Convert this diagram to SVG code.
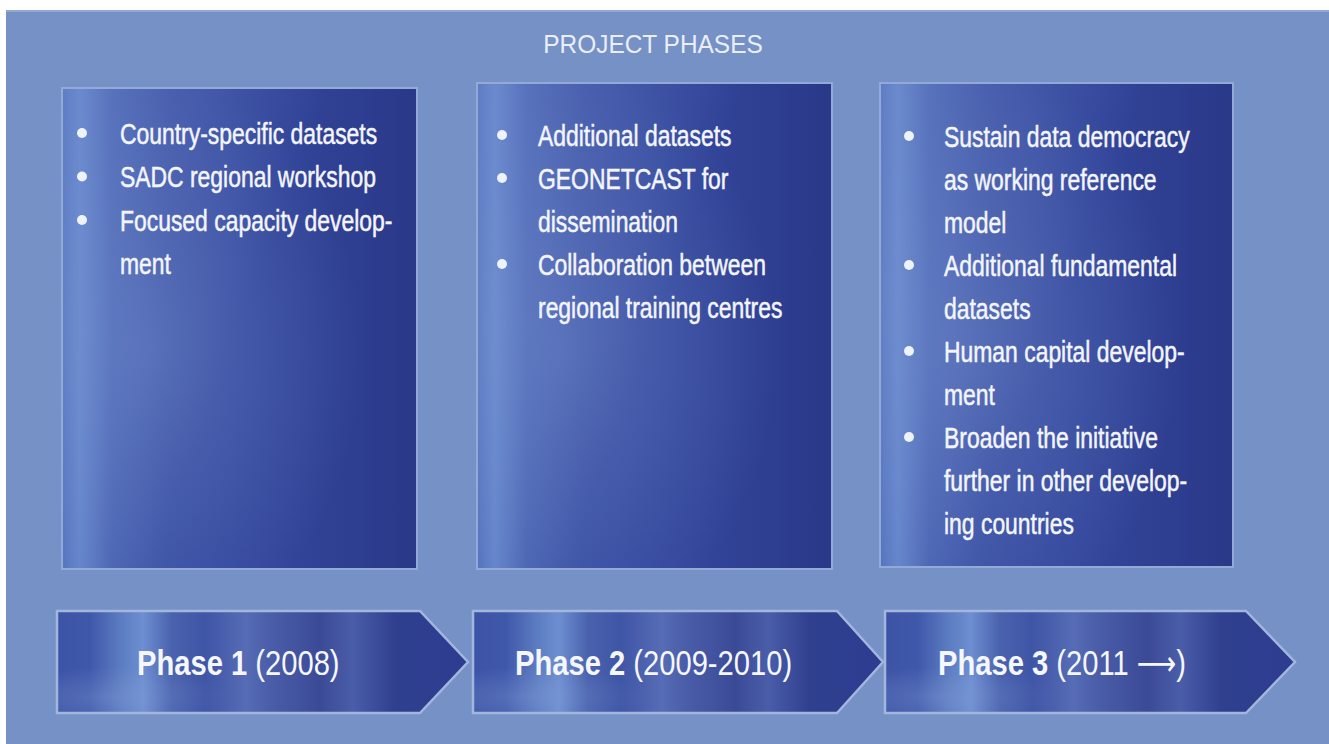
<svg xmlns="http://www.w3.org/2000/svg" width="1329" height="744" viewBox="0 0 1329 744">
<defs>
<style>
.t{font-family:"Liberation Sans",Arial,sans-serif;font-size:29px;fill:#f3f5fb;stroke:#f3f5fb;stroke-width:0.5}
.ph{font-family:"Liberation Sans",Arial,sans-serif;font-size:36px;fill:#f5f7fc}
.b{font-weight:bold}
.title{font-family:"Liberation Sans",Arial,sans-serif;font-size:26px;fill:#e9eef8;text-anchor:middle}
.box{stroke:#93aad8;stroke-width:2}
.arr{stroke:#a2b6de;stroke-width:2.5;stroke-linejoin:miter}
.dot{fill:#eef2fb}
</style>
<linearGradient id="gBox" x1="0" y1="0" x2="1" y2="0">
<stop offset="0" stop-color="#4e6cba"/>
<stop offset="0.05" stop-color="#6182c9"/>
<stop offset="0.14" stop-color="#4760b0"/>
<stop offset="0.3" stop-color="#3a4fa3"/>
<stop offset="0.6" stop-color="#33469b"/>
<stop offset="1" stop-color="#2a3888"/>
</linearGradient>
<radialGradient id="gGlow" cx="0.25" cy="0.55" r="0.6">
<stop offset="0" stop-color="#8aa6dc" stop-opacity="0.3"/>
<stop offset="1" stop-color="#8aa6dc" stop-opacity="0"/>
</radialGradient>
<linearGradient id="gTop" x1="0" y1="0" x2="0.6" y2="0.3">
<stop offset="0" stop-color="#7f9ad6" stop-opacity="0.35"/>
<stop offset="1" stop-color="#7f9ad6" stop-opacity="0"/>
</linearGradient>
<linearGradient id="gArr" x1="0" y1="0" x2="1" y2="0">
<stop offset="0" stop-color="#3c53a6"/>
<stop offset="0.08" stop-color="#4058aa"/>
<stop offset="0.16" stop-color="#5e7ec3"/>
<stop offset="0.21" stop-color="#6d8ed0"/>
<stop offset="0.28" stop-color="#4a62ae"/>
<stop offset="0.36" stop-color="#3f55a6"/>
<stop offset="0.46" stop-color="#566cb5"/>
<stop offset="0.52" stop-color="#4a5da8"/>
<stop offset="0.64" stop-color="#3b4a97"/>
<stop offset="0.72" stop-color="#4a5da9"/>
<stop offset="0.82" stop-color="#30408f"/>
<stop offset="1" stop-color="#2d3c90"/>
</linearGradient>
<radialGradient id="gArrGlow" cx="0.12" cy="0.85" r="0.3">
<stop offset="0" stop-color="#8fa9dc" stop-opacity="0.3"/>
<stop offset="1" stop-color="#8fa9dc" stop-opacity="0"/>
</radialGradient>
</defs>

<rect x="0" y="0" width="1329" height="744" fill="#ffffff"/>
<rect id="panel" x="6" y="10" width="1323" height="734" fill="#7591c5"/>
<line x1="6" y1="11" x2="1329" y2="11" stroke="#9db2dc" stroke-width="1.5"/>

<text class="title" transform="translate(653,53) scale(0.94,1)" x="0" y="0">PROJECT PHASES</text>

<g id="box1">
<rect class="box" x="62" y="88" width="355" height="481" fill="url(#gBox)"/>
<rect x="63" y="89" width="353" height="479" fill="url(#gGlow)"/>
<rect x="63" y="89" width="353" height="479" fill="url(#gTop)"/>
<circle class="dot" cx="82" cy="133" r="5"/>
<circle class="dot" cx="82" cy="176.5" r="5"/>
<circle class="dot" cx="82" cy="220" r="5"/>
<g transform="translate(120,0) scale(0.79,1)">
<text class="t" x="0" y="144">Country-specific datasets</text>
<text class="t" x="0" y="187.5">SADC regional workshop</text>
<text class="t" x="0" y="231">Focused capacity develop-</text>
<text class="t" x="0" y="274.5">ment</text>
</g>
</g>

<g id="box2">
<rect class="box" x="477" y="83" width="355" height="486" fill="url(#gBox)"/>
<rect x="478" y="84" width="353" height="484" fill="url(#gGlow)"/>
<rect x="478" y="84" width="353" height="484" fill="url(#gTop)"/>
<circle class="dot" cx="502" cy="135" r="5"/>
<circle class="dot" cx="502" cy="178" r="5"/>
<circle class="dot" cx="502" cy="264" r="5"/>
<g transform="translate(538,0) scale(0.79,1)">
<text class="t" x="0" y="146">Additional datasets</text>
<text class="t" x="0" y="189">GEONETCAST for</text>
<text class="t" x="0" y="232">dissemination</text>
<text class="t" x="0" y="275">Collaboration between</text>
<text class="t" x="0" y="318">regional training centres</text>
</g>
</g>

<g id="box3">
<rect class="box" x="880" y="83" width="353" height="484" fill="url(#gBox)"/>
<rect x="881" y="84" width="351" height="482" fill="url(#gGlow)"/>
<rect x="881" y="84" width="351" height="482" fill="url(#gTop)"/>
<circle class="dot" cx="909" cy="136" r="5"/>
<circle class="dot" cx="909" cy="265" r="5"/>
<circle class="dot" cx="909" cy="351" r="5"/>
<circle class="dot" cx="909" cy="437" r="5"/>
<g transform="translate(944,0) scale(0.79,1)">
<text class="t" x="0" y="147">Sustain data democracy</text>
<text class="t" x="0" y="190">as working reference</text>
<text class="t" x="0" y="233">model</text>
<text class="t" x="0" y="276">Additional fundamental</text>
<text class="t" x="0" y="319">datasets</text>
<text class="t" x="0" y="362">Human capital develop-</text>
<text class="t" x="0" y="405">ment</text>
<text class="t" x="0" y="448">Broaden the initiative</text>
<text class="t" x="0" y="491">further in other develop-</text>
<text class="t" x="0" y="534">ing countries</text>
</g>
</g>

<g id="phase1">
<path class="arr" d="M57,611 H420 L468,662 L420,713 H57 Z" fill="url(#gArr)"/>
<path d="M58,612 H420 L467,662 L420,712 H58 Z" fill="url(#gArrGlow)"/>
<text class="ph" transform="translate(137,675) scale(0.81,1)" x="0" y="0"><tspan class="b">Phase 1 </tspan>(2008)</text>
</g>

<g id="phase2">
<path class="arr" d="M473,611 H837 L883,662 L837,713 H473 Z" fill="url(#gArr)"/>
<path d="M474,612 H837 L882,662 L837,712 H474 Z" fill="url(#gArrGlow)"/>
<text class="ph" transform="translate(515,675) scale(0.81,1)" x="0" y="0"><tspan class="b">Phase 2 </tspan>(2009-2010)</text>
</g>

<g id="phase3">
<path class="arr" d="M885,611 H1246 L1295,662 L1246,713 H885 Z" fill="url(#gArr)"/>
<path d="M886,612 H1246 L1294,662 L1246,712 H886 Z" fill="url(#gArrGlow)"/>
<text class="ph" transform="translate(938,675) scale(0.81,1)" x="0" y="0"><tspan class="b">Phase 3 </tspan>(2011 <tspan font-family="DejaVu Sans, sans-serif" font-size="34">⟶</tspan>)</text>
</g>
</svg>
